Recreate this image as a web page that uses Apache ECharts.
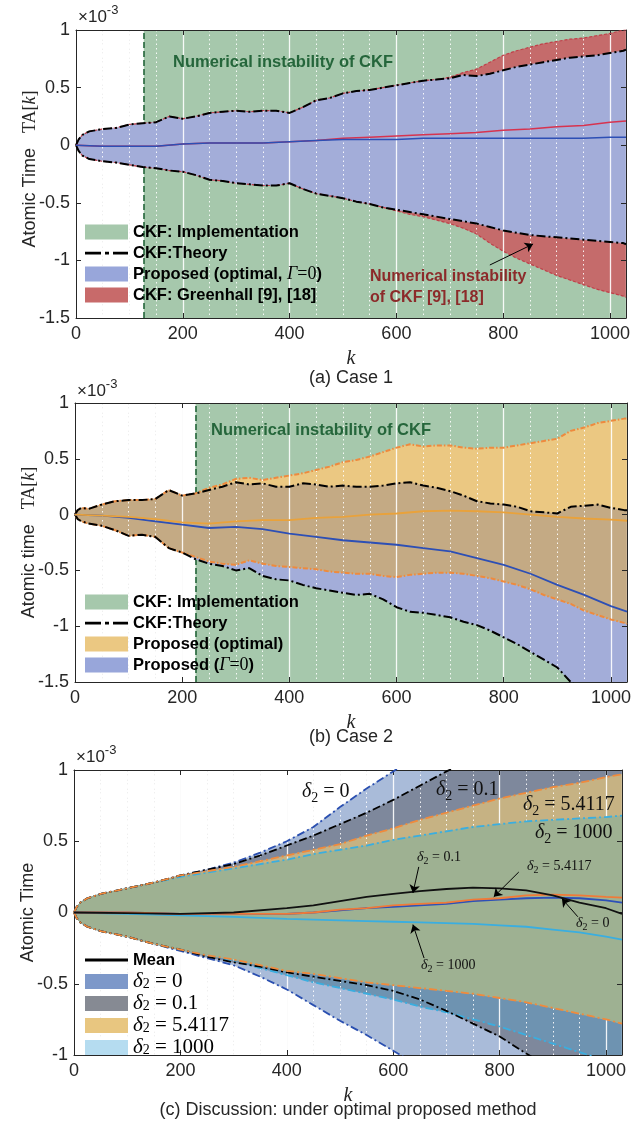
<!DOCTYPE html>
<html><head><meta charset="utf-8">
<script src="https://cdn.jsdelivr.net/npm/echarts@6/dist/echarts.min.js"></script>
<style>html,body{margin:0;padding:0;background:#fff}#c{width:641px;height:1123px}</style>
</head><body><div id="c"></div>
<script>
// ---------------- DATA (values in units of 1e-3) ----------------
const kA = [0,5,12,25,50,75,100,125,150,175,200,225,250,275,300,325,350,375,400,425,450,475,500,525,550,575,600,625,650,675,700,725,750,775,800,825,850,875,900,925,950,975,1000,1025,1030];
const kM = [0,50,100,150,200,250,300,350,400,450,500,550,600,650,700,750,800,850,900,950,1000,1030];
const kC = [0,5,12,25,50,100,150,200,250,300,350,400,450,500,550,600,650,700,750,800,850,900,950,1000,1030];
const kCM = [0,100,200,300,400,450,500,550,600,650,700,750,800,850,900,950,1000,1030];

// (a) Case 1
const instabA = 127;
const aTheoryUp = [0,0.05,0.09,0.12,0.14,0.15,0.18,0.19,0.2,0.25,0.23,0.25,0.28,0.29,0.3,0.29,0.3,0.3,0.28,0.33,0.39,0.41,0.45,0.47,0.48,0.5,0.52,0.54,0.56,0.57,0.58,0.61,0.6,0.62,0.65,0.68,0.7,0.72,0.74,0.76,0.77,0.78,0.8,0.82,0.83];
const aTheoryLo = [0,-0.05,-0.09,-0.12,-0.14,-0.15,-0.17,-0.19,-0.2,-0.22,-0.23,-0.26,-0.3,-0.31,-0.33,-0.34,-0.35,-0.35,-0.33,-0.38,-0.42,-0.44,-0.46,-0.49,-0.51,-0.54,-0.56,-0.58,-0.6,-0.62,-0.64,-0.66,-0.68,-0.71,-0.74,-0.76,-0.78,-0.79,-0.8,-0.81,-0.82,-0.83,-0.84,-0.85,-0.86];
const aGreenUp = [0,0.05,0.09,0.12,0.14,0.15,0.18,0.19,0.2,0.25,0.23,0.25,0.28,0.29,0.3,0.29,0.3,0.3,0.28,0.33,0.39,0.41,0.45,0.47,0.48,0.5,0.52,0.54,0.56,0.57,0.59,0.63,0.66,0.72,0.78,0.82,0.85,0.88,0.9,0.92,0.93,0.95,0.97,1.0,1.0];
const aGreenLo = [0,-0.05,-0.09,-0.12,-0.14,-0.15,-0.17,-0.19,-0.2,-0.22,-0.23,-0.26,-0.3,-0.31,-0.33,-0.34,-0.35,-0.35,-0.33,-0.38,-0.42,-0.44,-0.46,-0.49,-0.51,-0.54,-0.57,-0.6,-0.62,-0.65,-0.68,-0.72,-0.77,-0.85,-0.92,-0.98,-1.03,-1.08,-1.13,-1.17,-1.21,-1.25,-1.28,-1.31,-1.32];
const aGreenMean = [0,-0.01,-0.01,-0.01,0.01,0.02,0.02,0.02,0.03,0.04,0.06,0.07,0.08,0.09,0.1,0.11,0.13,0.14,0.16,0.17,0.2,0.21];
const aPropMean = [0,-0.01,-0.01,-0.01,0.01,0.02,0.02,0.02,0.03,0.04,0.05,0.05,0.05,0.06,0.06,0.06,0.06,0.06,0.06,0.06,0.07,0.07];

// (b) Case 2
const instabB = 225;
const bTheoryUp = [0,0.04,0.06,0.05,0.09,0.12,0.13,0.13,0.14,0.22,0.17,0.19,0.22,0.25,0.29,0.27,0.28,0.25,0.25,0.28,0.27,0.25,0.26,0.25,0.25,0.26,0.28,0.29,0.26,0.24,0.21,0.17,0.12,0.1,0.09,0.07,0.03,0.02,0.01,0.07,0.08,0.09,0.06,0.04,0.04];
const bTheoryLo = [0,-0.04,-0.06,-0.08,-0.1,-0.14,-0.19,-0.18,-0.2,-0.3,-0.34,-0.4,-0.44,-0.46,-0.5,-0.48,-0.55,-0.58,-0.59,-0.63,-0.66,-0.68,-0.7,-0.72,-0.71,-0.76,-0.83,-0.87,-0.88,-0.9,-0.92,-0.96,-0.99,-1.04,-1.1,-1.16,-1.23,-1.3,-1.37,-1.5,-1.58,-1.65,-1.72,-1.8,-1.82];
const bOptUp = [0,0.04,0.06,0.05,0.09,0.12,0.13,0.13,0.14,0.22,0.17,0.19,0.24,0.27,0.32,0.33,0.31,0.33,0.35,0.37,0.4,0.43,0.47,0.49,0.52,0.56,0.6,0.63,0.61,0.62,0.62,0.6,0.59,0.6,0.6,0.62,0.64,0.66,0.68,0.75,0.78,0.82,0.84,0.86,0.86];
const bOptLo = [0,-0.04,-0.06,-0.08,-0.1,-0.14,-0.19,-0.18,-0.2,-0.3,-0.34,-0.38,-0.42,-0.44,-0.45,-0.41,-0.44,-0.46,-0.47,-0.48,-0.49,-0.51,-0.52,-0.53,-0.53,-0.55,-0.56,-0.54,-0.53,-0.52,-0.52,-0.53,-0.55,-0.57,-0.6,-0.63,-0.67,-0.72,-0.76,-0.8,-0.86,-0.9,-0.94,-0.97,-0.98];
const bPropMean = [0,-0.01,-0.03,-0.06,-0.09,-0.12,-0.11,-0.13,-0.17,-0.2,-0.23,-0.25,-0.27,-0.3,-0.33,-0.39,-0.45,-0.53,-0.63,-0.72,-0.82,-0.87];
const bOptMean = [0,-0.01,-0.02,-0.04,-0.07,-0.08,-0.06,-0.05,-0.05,-0.03,-0.02,0.0,0.01,0.03,0.035,0.03,0.02,0.0,-0.02,-0.035,-0.045,-0.055];

// (c) Discussion
const c0Up = [0,0.04,0.07,0.1,0.13,0.17,0.21,0.26,0.3,0.35,0.42,0.5,0.6,0.74,0.87,0.99,1.12,1.25,1.37,1.5,1.62,1.75,1.87,2.0,2.1];
const c0Lo = [0,-0.04,-0.07,-0.1,-0.13,-0.17,-0.22,-0.27,-0.32,-0.37,-0.45,-0.54,-0.65,-0.76,-0.86,-0.97,-1.08,-1.19,-1.3,-1.4,-1.5,-1.6,-1.7,-1.8,-1.9];
const c01Up = [0,0.04,0.07,0.1,0.13,0.17,0.21,0.26,0.3,0.34,0.4,0.47,0.54,0.62,0.7,0.79,0.89,0.99,1.08,1.17,1.26,1.35,1.44,1.52,1.57];
const c01Lo = [0,-0.04,-0.07,-0.1,-0.13,-0.17,-0.22,-0.26,-0.31,-0.35,-0.38,-0.42,-0.45,-0.48,-0.51,-0.55,-0.61,-0.69,-0.78,-0.87,-0.99,-1.1,-1.21,-1.33,-1.4];
const c5Up = [0,0.04,0.07,0.1,0.13,0.17,0.21,0.26,0.29,0.32,0.36,0.4,0.44,0.48,0.54,0.59,0.65,0.7,0.75,0.8,0.84,0.88,0.91,0.95,0.97];
const c5Lo = [0,-0.04,-0.07,-0.1,-0.13,-0.17,-0.22,-0.26,-0.3,-0.33,-0.37,-0.41,-0.43,-0.46,-0.49,-0.51,-0.53,-0.55,-0.57,-0.6,-0.63,-0.67,-0.71,-0.75,-0.78];
const cKUp = [0,0.04,0.07,0.1,0.13,0.17,0.21,0.25,0.28,0.31,0.34,0.37,0.41,0.44,0.47,0.51,0.54,0.57,0.6,0.62,0.64,0.65,0.66,0.67,0.68];
const cKLo = [0,-0.04,-0.07,-0.1,-0.13,-0.17,-0.22,-0.26,-0.3,-0.34,-0.39,-0.44,-0.49,-0.53,-0.57,-0.61,-0.66,-0.7,-0.75,-0.8,-0.86,-0.92,-0.98,-1.04,-1.08];
const cMean01 = [0,-0.005,-0.01,0.0,0.03,0.05,0.08,0.11,0.13,0.15,0.165,0.175,0.17,0.155,0.12,0.07,0.03,-0.01];
const cMean5 = [0,0.0,-0.01,-0.01,-0.01,0.0,0.02,0.03,0.05,0.06,0.07,0.09,0.1,0.12,0.125,0.12,0.11,0.105];
const cMean0 = [0,0.0,-0.01,-0.01,-0.01,0.0,0.015,0.03,0.04,0.05,0.06,0.08,0.09,0.1,0.105,0.1,0.085,0.07];
const cMeanK = [0,-0.01,-0.02,-0.03,-0.045,-0.05,-0.055,-0.06,-0.065,-0.07,-0.075,-0.08,-0.09,-0.1,-0.12,-0.14,-0.17,-0.19];

// ---------------- STYLE ----------------
const SANS = "'Liberation Sans', Arial, Helvetica, sans-serif";
const SERIF = "'Liberation Serif', 'Times New Roman', serif";
const INK = '#262626';
const GREEN = '#a6c8ac', DKGREEN = '#25663b', BLUEF = '#a3add9', REDF = '#c56b6b';
const YEL = '#ebc882', BROWN = '#c4aa84';
const LB = '#a9bbd9', GB = '#7e889c', STEEL = '#6e93b1', TAN = '#c6b283', OLIVE = '#9eb192';
const XMAX = 1030;
const dashDotIcon = 'path://M0,0h0.01v0.01h-0.01z M42.99,14.99h0.01v0.01h-0.01z M0,6.3h16v2.6h-16z M20,6.3h4v2.6h-4z M28,6.3h15v2.6h-15z';
const lineIcon = 'path://M0,0h0.01v0.01h-0.01z M42.99,14.99h0.01v0.01h-0.01z M0,6h43v3h-43z';

function band(name, g, ks, lo, hi, color, z) {
  return {
    type: 'custom', name: name, xAxisIndex: 3 * g, yAxisIndex: 2 * g, z: z, clip: true, silent: true,
    data: ks.map((k, i) => [k, lo[i], hi[i]]),
    encode: { x: 0, y: [1, 2] },
    renderItem: function (params, api) {
      if (params.dataIndex !== 0) return null;
      const pts = [];
      for (let i = 0; i < ks.length; i++) pts.push(api.coord([ks[i], hi[i]]));
      for (let i = ks.length - 1; i >= 0; i--) pts.push(api.coord([ks[i], lo[i]]));
      return { type: 'polygon', shape: { points: pts }, style: { fill: color, stroke: color, lineWidth: 0.4 } };
    }
  };
}
function lineS(name, g, ks, vs, color, width, type, z, extra) {
  const s = {
    type: 'line', name: name, xAxisIndex: 3 * g, yAxisIndex: 2 * g,
    data: ks.map((k, i) => [k, vs[i]]), showSymbol: false, symbol: 'none', z: z, silent: true,
    lineStyle: { color: color, width: width, type: type }, itemStyle: { color: color }
  };
  return Object.assign(s, extra || {});
}
function impl(name, g, at) {
  return {
    type: 'line', name: name, xAxisIndex: 3 * g, yAxisIndex: 2 * g, data: [[at, 0]], symbol: 'none', showSymbol: false,
    lineStyle: { width: 0 }, z: 1, silent: true,
    markArea: { silent: true, z: 1, itemStyle: { color: GREEN }, data: [[{ xAxis: at }, { xAxis: XMAX }]] },
    markLine: { silent: true, z: 1.5, symbol: 'none', label: { show: false }, lineStyle: { color: DKGREEN, type: [6, 3], width: 1.6 }, data: [{ xAxis: at }] }
  };
}
function arrows(list) {
  return {
    silent: true, z: 15, symbol: ['none', 'arrow'], symbolSize: 8, label: { show: false },
    lineStyle: { color: '#000', width: 1, type: 'solid' },
    data: list.map(p => [{ coord: p[0] }, { coord: p[1] }])
  };
}

const grids = [
  { left: 76, top: 30, width: 550, height: 288 },
  { left: 75, top: 403, width: 552, height: 279 },
  { left: 74, top: 770, width: 548, height: 285 }
];
const yRanges = [[-1.5, 1], [-1.5, 1], [-1, 1]];
const yNames = [
  '{lead| }{a|Atomic Time}{sp| }{t|TA[}{k|k}{t|]}',
  '{a|Atomic time}{sp| }{t|TA[}{k|k}{t|]}',
  '{a|Atomic Time}'
];
const xAxes = [], yAxes = [];
grids.forEach((gr, g) => {
  xAxes.push({
    gridIndex: g, type: 'value', min: 0, max: XMAX, interval: 200, position: 'bottom', z: 6,
    axisLine: { show: true, onZero: false, lineStyle: { color: INK, width: 1 } },
    axisTick: { show: true, inside: true, length: 5, lineStyle: { color: INK } },
    axisLabel: { show: true, color: INK, fontSize: 18, fontFamily: SANS, margin: 7, showMaxLabel: false, formatter: v => String(v) },
    splitLine: { show: true, lineStyle: { color: 'rgba(255,255,255,0.9)', width: 1.3 } },
    minorTick: { show: false, splitNumber: 4 },
    minorSplitLine: { show: true, lineStyle: { color: 'rgba(255,255,255,0.9)', width: 1, type: [1.5, 3] } },
    name: 'k', nameLocation: 'middle', nameGap: 31, nameMoveOverlap: false,
    nameTextStyle: { fontFamily: SERIF, fontStyle: 'italic', fontSize: 20, color: INK }
  });
  xAxes.push({
    gridIndex: g, type: 'value', min: 0, max: XMAX, interval: 200, position: 'top', z: 6,
    axisLine: { show: true, onZero: false, lineStyle: { color: INK, width: 1 } },
    axisTick: { show: true, inside: true, length: 5, lineStyle: { color: INK } },
    axisLabel: { show: false }, splitLine: { show: false }
  });
  xAxes.push({
    gridIndex: g, type: 'value', min: 0, max: XMAX, interval: 200, position: 'bottom', z: 0,
    axisLine: { show: false, onZero: false }, axisTick: { show: false }, axisLabel: { show: false },
    splitLine: { show: true, lineStyle: { color: '#d8d8d8', width: 1 } },
    minorTick: { show: false, splitNumber: 4 },
    minorSplitLine: { show: true, lineStyle: { color: '#c4c4c4', width: 1, type: [1.5, 3] } }
  });
  yAxes.push({
    gridIndex: g, type: 'value', min: yRanges[g][0], max: yRanges[g][1], interval: 0.5, position: 'left', z: 6,
    axisLine: { show: true, onZero: false, lineStyle: { color: INK, width: 1 } },
    axisTick: { show: true, inside: true, length: 5, lineStyle: { color: INK } },
    axisLabel: { show: true, color: INK, fontSize: 18, fontFamily: SANS, margin: 6, formatter: v => String(v) },
    splitLine: { show: false },
    name: yNames[g], nameLocation: 'middle', nameGap: 37, nameRotate: 90, nameMoveOverlap: false,
    nameTextStyle: {
      color: INK, fontSize: 18, fontFamily: SANS,
      rich: {
        lead: { width: 10 },
        a: { fontSize: 18, fontFamily: SANS, color: INK },
        sp: { width: 15 },
        t: { fontSize: 18, fontFamily: SERIF, color: INK },
        k: { fontSize: 18, fontFamily: SERIF, fontStyle: 'italic', color: INK }
      }
    }
  });
  yAxes.push({
    gridIndex: g, type: 'value', min: yRanges[g][0], max: yRanges[g][1], interval: 0.5, position: 'right', z: 6,
    axisLine: { show: true, onZero: false, lineStyle: { color: INK, width: 1 } },
    axisTick: { show: true, inside: true, length: 5, lineStyle: { color: INK } },
    axisLabel: { show: false }, splitLine: { show: false }
  });
});

const series = [
  // ---- (a)
  impl('CKF: Implementation', 0, instabA),
  band('CKF: Greenhall [9], [18]', 0, kA, aGreenLo, aGreenUp, REDF, 2),
  band('Proposed (optimal, Γ=0)', 0, kA, aTheoryLo, aTheoryUp, BLUEF, 3),
  lineS(undefined, 0, kA, aGreenUp, '#c0404a', 1.2, [3, 2], 7),
  lineS(undefined, 0, kA, aGreenLo, '#c0404a', 1.2, [3, 2], 7),
  lineS('CKF:Theory', 0, kA, aTheoryUp, '#000', 2, [9, 3, 2, 3], 8),
  lineS('CKF:Theory', 0, kA, aTheoryLo, '#000', 2, [9, 3, 2, 3], 8),
  lineS(undefined, 0, kM, aGreenMean, '#d7334f', 1.5, 'solid', 9),
  lineS(undefined, 0, kM, aPropMean, '#2d4fb5', 1.5, 'solid', 9,
    { markLine: arrows([[[775, -1.04], [856, -0.858]]]) }),
  // ---- (b)
  impl('CKF: Implementation', 1, instabB),
  band('Proposed (Γ=0)', 1, kA, bTheoryLo, bTheoryUp, BLUEF, 2),
  band('Proposed (optimal)', 1, kA, bOptLo, bOptUp, YEL, 3),
  band(undefined, 1, kA, bOptLo, bTheoryUp, BROWN, 4),
  lineS(undefined, 1, kA, bOptUp, '#ee8a3e', 2, [5, 2, 1.5, 2], 7),
  lineS(undefined, 1, kA, bOptLo, '#ee8a3e', 2, [5, 2, 1.5, 2], 7),
  lineS('CKF:Theory', 1, kA, bTheoryUp, '#000', 2, [9, 3, 2, 3], 8),
  lineS('CKF:Theory', 1, kA, bTheoryLo, '#000', 2, [9, 3, 2, 3], 8),
  lineS(undefined, 1, kM, bPropMean, '#2d4fb5', 1.8, 'solid', 9),
  lineS(undefined, 1, kM, bOptMean, '#e9a23b', 1.8, 'solid', 9),
  // ---- (c)
  band('δ2=0', 2, kC, c0Lo, c0Up, LB, 2),
  band('δ2=0.1', 2, kC, c01Lo, c01Up, GB, 3),
  band('δ2=1000', 2, kC, cKLo, cKUp, STEEL, 4),
  band('δ2=5.4117', 2, kC, c5Lo, c5Up, TAN, 5),
  band(undefined, 2, kC, c5Lo, cKUp, OLIVE, 6),
  lineS(undefined, 2, kC, c0Up, '#2a4fb0', 1.8, [8, 3, 2, 3], 7),
  lineS(undefined, 2, kC, c0Lo, '#2a4fb0', 1.8, [8, 3, 2, 3], 7),
  lineS(undefined, 2, kC, cKUp, '#3aaee0', 1.8, [8, 3, 2, 3], 7),
  lineS(undefined, 2, kC, cKLo, '#3aaee0', 1.8, [8, 3, 2, 3], 7),
  lineS(undefined, 2, kC, c01Up, '#000', 1.8, [8, 3, 2, 3], 8),
  lineS(undefined, 2, kC, c01Lo, '#000', 1.8, [8, 3, 2, 3], 8),
  lineS(undefined, 2, kC, c5Up, '#f08a3c', 1.8, [8, 3, 2, 3], 8),
  lineS(undefined, 2, kC, c5Lo, '#f08a3c', 1.8, [8, 3, 2, 3], 8),
  lineS(undefined, 2, kCM, cMeanK, '#3aaee0', 1.8, 'solid', 9),
  lineS(undefined, 2, kCM, cMean0, '#2d50b8', 1.8, 'solid', 9),
  lineS(undefined, 2, kCM, cMean5, '#f07a38', 1.8, 'solid', 9),
  lineS('Mean', 2, kCM, cMean01, '#111', 1.8, 'solid', 10,
    { markLine: arrows([
      [[648, 0.32], [637, 0.137]],
      [[836, 0.284], [789, 0.11]],
      [[947, -0.03], [917, 0.098]],
      [[658, -0.32], [637, -0.085]]
    ]) })
];

function legendFmt(name) {
  if (name === 'Proposed (optimal, Γ=0)') return 'Proposed (optimal, {g|Γ}{e|=0})';
  if (name === 'Proposed (Γ=0)') return 'Proposed ({g|Γ}{e|=0})';
  if (name.indexOf('δ2=') === 0) return '{d|δ}{s|2}{n| = ' + name.slice(3) + '}';
  return name;
}
const legRich = {
  g: { fontFamily: SERIF, fontStyle: 'italic', fontWeight: 'normal', fontSize: 18, lineHeight: 20, color: '#000' },
  e: { fontFamily: SERIF, fontWeight: 'normal', fontSize: 18, lineHeight: 20, color: '#000' },
  d: { fontFamily: SERIF, fontStyle: 'italic', fontWeight: 'normal', fontSize: 21, lineHeight: 20, color: '#000', verticalAlign: 'middle' },
  s: { fontFamily: SERIF, fontWeight: 'normal', fontSize: 14, lineHeight: 12, color: '#000', verticalAlign: 'bottom' },
  n: { fontFamily: SERIF, fontWeight: 'normal', fontSize: 21, lineHeight: 20, color: '#000' }
};
function patch(name, color) { return { name: name, icon: 'rect', itemStyle: { color: color, borderWidth: 0 } }; }
function legendAt(top, data) {
  return {
    left: 85, top: top, orient: 'vertical', padding: 0, itemWidth: 43, itemHeight: 15, itemGap: 1,
    selectedMode: false, z: 10,
    textStyle: { fontFamily: SANS, fontWeight: 'bold', fontSize: 16.5, lineHeight: 20, color: '#000', rich: legRich },
    formatter: legendFmt, data: data
  };
}
const legends = [
  legendAt(222, [
    patch('CKF: Implementation', GREEN),
    { name: 'CKF:Theory', icon: dashDotIcon, itemStyle: { color: '#000', borderWidth: 0 } },
    patch('Proposed (optimal, Γ=0)', '#98a6da'),
    patch('CKF: Greenhall [9], [18]', '#c86a6a')
  ]),
  legendAt(592, [
    patch('CKF: Implementation', GREEN),
    { name: 'CKF:Theory', icon: dashDotIcon, itemStyle: { color: '#000', borderWidth: 0 } },
    patch('Proposed (optimal)', YEL),
    patch('Proposed (Γ=0)', '#98a6da')
  ]),
  legendAt(950, [
    { name: 'Mean', icon: lineIcon, itemStyle: { color: '#000', borderWidth: 0 } },
    patch('δ2=0', '#7d98c9'),
    patch('δ2=0.1', '#868a93'),
    patch('δ2=5.4117', '#e8c680'),
    patch('δ2=1000', '#b5dcf0')
  ])
];

function txt(x, y, text, opts) {
  const st = Object.assign({
    text: text, fontFamily: SANS, fontSize: 16, fill: '#000',
    align: 'left', verticalAlign: 'middle'
  }, opts || {});
  st.textAlign = st.align; st.textVerticalAlign = st.verticalAlign;
  return { type: 'text', x: x, y: y, z: 20, silent: true, style: st };
}
function deltaRich(S) {
  return {
    d: { fontFamily: SERIF, fontStyle: 'italic', fontSize: S, lineHeight: Math.round(S * 1.3), verticalAlign: 'middle', fill: '#111' },
    s: { fontFamily: SERIF, fontSize: Math.round(S * 0.7), lineHeight: Math.round(S * 0.7), verticalAlign: 'bottom', fill: '#111' },
    n: { fontFamily: SERIF, fontSize: S, lineHeight: Math.round(S * 1.3), verticalAlign: 'middle', fill: '#111' }
  };
}
function dlabel(x, y, val, S) {
  return txt(x, y, '{d|δ}{s|2}{n| = ' + val + '}', { rich: deltaRich(S) });
}
const sciRich = {
  a: { fontFamily: SANS, fontSize: 17, lineHeight: 22, verticalAlign: 'bottom', fill: INK },
  b: { fontFamily: SANS, fontSize: 13, lineHeight: 13, verticalAlign: 'top', fill: INK }
};
const graphics = [
  txt(78, 15, '{a|×10}{b|-3}', { rich: sciRich }),
  txt(77, 389, '{a|×10}{b|-3}', { rich: sciRich }),
  txt(76, 755, '{a|×10}{b|-3}', { rich: sciRich }),
  txt(283, 62, 'Numerical instability of CKF', { fontSize: 16.5, fontWeight: 'bold', fill: DKGREEN, align: 'center' }),
  txt(370, 277, 'Numerical instability', { fontSize: 16, fontWeight: 'bold', fill: '#8c2a2a' }),
  txt(370, 298, 'of CKF [9], [18]', { fontSize: 16, fontWeight: 'bold', fill: '#8c2a2a' }),
  txt(321, 430, 'Numerical instability of CKF', { fontSize: 16.5, fontWeight: 'bold', fill: DKGREEN, align: 'center' }),
  txt(351, 378, '(a) Case 1', { fontSize: 18, fill: INK, align: 'center' }),
  txt(351, 737, '(b) Case 2', { fontSize: 18, fill: INK, align: 'center' }),
  txt(348, 1110, '(c) Discussion: under optimal proposed method', { fontSize: 18, fill: INK, align: 'center' }),
  dlabel(302, 792, '0', 20),
  dlabel(436, 790, '0.1', 20),
  dlabel(523, 805, '5.4117', 20),
  dlabel(535, 833, '1000', 20),
  dlabel(417, 857, '0.1', 14),
  dlabel(527, 866, '5.4117', 14),
  dlabel(576, 923, '0', 14),
  dlabel(421, 965, '1000', 14)
];

const chart = echarts.init(document.getElementById('c'), null, { renderer: 'canvas' });
chart.setOption({
  animation: false,
  backgroundColor: '#fff',
  grid: grids,
  xAxis: xAxes,
  yAxis: yAxes,
  legend: legends,
  series: series,
  graphic: graphics
});
</script></body></html>
